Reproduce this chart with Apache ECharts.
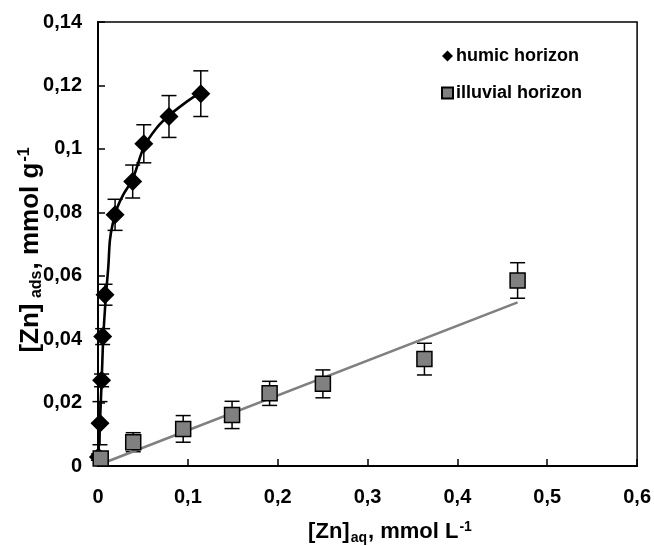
<!DOCTYPE html>
<html>
<head>
<meta charset="utf-8">
<script src="https://cdn.jsdelivr.net/npm/echarts@6/dist/echarts.min.js"></script>
<style>
html,body{margin:0;padding:0;background:#fff;}
#chart{width:654px;height:546px;}
</style>
</head>
<body>
<div id="chart"></div>
<script>
// ---- data ----
const xTickLabels = ['0', '0,1', '0,2', '0,3', '0,4', '0,5', '0,6'];
const yTickLabels = ['0', '0,02', '0,04', '0,06', '0,08', '0,1', '0,12', '0,14'];

const humicX   = [0.0005, 0.0022, 0.004, 0.0052, 0.0078, 0.019, 0.0386, 0.051, 0.079, 0.1144];
const humicY   = [0.0028, 0.0135, 0.027, 0.0408, 0.054, 0.0792, 0.0897, 0.1016, 0.1102, 0.1174];
const humicErr = [0.001, 0.0068, 0.002, 0.0025, 0.0033, 0.0049, 0.0052, 0.006, 0.0066, 0.0072];

const illuvialX   = [0.003, 0.0392, 0.0948, 0.1492, 0.191, 0.2503, 0.3633, 0.467];
const illuvialY   = [0.0024, 0.0075, 0.0117, 0.0161, 0.0229, 0.0259, 0.0337, 0.0585];
const illuvialErr = [0.001, 0.003, 0.0042, 0.0043, 0.0038, 0.0044, 0.005, 0.0056];

const humicFitX = [0.0002, 0.001, 0.0022, 0.0041, 0.0059, 0.0089, 0.0115, 0.0133, 0.0165, 0.0215, 0.028, 0.0386, 0.051, 0.065, 0.079, 0.097, 0.11];
const humicFitY = [0.002, 0.007, 0.014, 0.027, 0.0408, 0.054, 0.0629, 0.0713, 0.0765, 0.0815, 0.0855, 0.0905, 0.1005, 0.1065, 0.1105, 0.1145, 0.117];

const illuvialFitX = [0.004, 0.467];
const illuvialFitY = [0.0007, 0.0516];

// ---- chart ----
const FONT = "'Liberation Sans', Arial, Helvetica, sans-serif";
const zip = (a, b, c) => a.map((v, i) => c ? [v, b[i], c[i]] : [v, b[i]]);

function errRender(params, api) {
  const x = api.value(0), y = api.value(1), e = api.value(2);
  const lo = api.coord([x, y - e]);
  const hi = api.coord([x, y + e]);
  const w = 7.5;
  const st = { stroke: '#000', lineWidth: 1.5 };
  return {
    type: 'group',
    children: [
      { type: 'line', shape: { x1: lo[0], y1: lo[1], x2: hi[0], y2: hi[1] }, style: st },
      { type: 'line', shape: { x1: lo[0] - w, y1: lo[1], x2: lo[0] + w, y2: lo[1] }, style: st },
      { type: 'line', shape: { x1: hi[0] - w, y1: hi[1], x2: hi[0] + w, y2: hi[1] }, style: st }
    ]
  };
}

const chart = echarts.init(document.getElementById('chart'), null, { renderer: 'canvas' });
chart.setOption({
  animation: false,
  backgroundColor: '#fff',
  grid: {
    left: 98, right: 16, top: 22, bottom: 80,
    containLabel: false,
    show: true, borderColor: '#000', borderWidth: 1.5, backgroundColor: 'transparent'
  },
  legend: {
    data: ['humic horizon', 'illuvial horizon'],
    orient: 'vertical',
    left: 436, top: 42,
    itemWidth: 11, itemHeight: 11, itemGap: 19,
    textStyle: { fontFamily: FONT, fontWeight: 'bold', fontSize: 18, color: '#000', padding: [0, 0, 0, -2] },
    selectedMode: false
  },
  xAxis: {
    type: 'value', min: 0, max: 0.6, interval: 0.1,
    axisLine: { show: true, onZero: false, lineStyle: { color: '#000', width: 2 } },
    axisTick: { show: true, inside: true, length: 7, lineStyle: { color: '#000', width: 1.5 } },
    splitLine: { show: false },
    axisLabel: {
      margin: 21, color: '#000', fontFamily: FONT, fontWeight: 'bold', fontSize: 20,
      formatter: v => xTickLabels[Math.round(v / 0.1)]
    }
  },
  yAxis: {
    type: 'value', min: 0, max: 0.14, interval: 0.02,
    axisLine: { show: true, onZero: false, lineStyle: { color: '#000', width: 2 } },
    axisTick: { show: true, inside: true, length: 7, lineStyle: { color: '#000', width: 1.5 } },
    splitLine: { show: false },
    axisLabel: {
      margin: 16, color: '#000', fontFamily: FONT, fontWeight: 'bold', fontSize: 20,
      formatter: v => yTickLabels[Math.round(v / 0.02)]
    }
  },
  graphic: [
    {
      type: 'text', x: 390, y: 532, z: 10,
      style: {
        text: '{b|[Zn]}{s|aq}{b|, mmol L}{p|-1}',
        align: 'center', verticalAlign: 'middle',
        rich: {
          b: { fontFamily: FONT, fontWeight: 'bold', fontSize: 22, fill: '#000', lineHeight: 30, verticalAlign: 'middle' },
          s: { fontFamily: FONT, fontWeight: 'bold', fontSize: 14, fill: '#000', lineHeight: 30, verticalAlign: 'bottom', padding: [0, 1, 2, 1] },
          p: { fontFamily: FONT, fontWeight: 'bold', fontSize: 14, fill: '#000', lineHeight: 30, verticalAlign: 'top', padding: [3, 0, 0, 1] }
        }
      }
    },
    {
      type: 'text', x: 31, y: 250, rotation: Math.PI / 2, z: 10,
      style: {
        text: '{b|[Zn]}{s| ads}{b|, mmol g}{p|-1}',
        align: 'center', verticalAlign: 'middle',
        rich: {
          b: { fontFamily: FONT, fontWeight: 'bold', fontSize: 26, fill: '#000', lineHeight: 34, verticalAlign: 'middle' },
          s: { fontFamily: FONT, fontWeight: 'bold', fontSize: 16, fill: '#000', lineHeight: 34, verticalAlign: 'bottom', padding: [0, 1, 3, 1] },
          p: { fontFamily: FONT, fontWeight: 'bold', fontSize: 16, fill: '#000', lineHeight: 34, verticalAlign: 'top', padding: [3, 0, 0, 1] }
        }
      }
    }
  ],
  series: [
    {
      name: 'humicErr', type: 'custom', renderItem: errRender, z: 2,
      encode: { x: 0, y: 1 }, data: zip(humicX, humicY, humicErr), silent: true
    },
    {
      name: 'illuvialErr', type: 'custom', renderItem: errRender, z: 2,
      encode: { x: 0, y: 1 }, data: zip(illuvialX, illuvialY, illuvialErr), silent: true
    },
    {
      name: 'humicFit', type: 'line', z: 3, showSymbol: false, smooth: 0.3,
      lineStyle: { color: '#000', width: 2.6 }, data: zip(humicFitX, humicFitY), silent: true
    },
    {
      name: 'illuvialFit', type: 'line', z: 3, showSymbol: false,
      lineStyle: { color: '#808080', width: 2.6 }, data: zip(illuvialFitX, illuvialFitY), silent: true
    },
    {
      name: 'humic horizon', type: 'scatter', z: 4, symbol: 'diamond', symbolSize: [19, 19],
      itemStyle: { color: '#000', opacity: 1 }, data: zip(humicX, humicY)
    },
    {
      name: 'illuvial horizon', type: 'scatter', z: 5, symbol: 'rect', symbolSize: 15,
      itemStyle: { color: '#808080', borderColor: '#000', borderWidth: 1.5, opacity: 1 },
      data: zip(illuvialX, illuvialY)
    }
  ]
});
</script>
</body>
</html>
